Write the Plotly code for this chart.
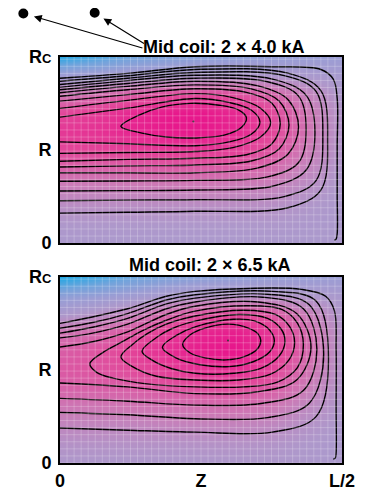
import plotly.graph_objects as go

# ---------------- data (z in % of L/2, r in % of Rc) ----------------
shade_z = [0, 12.5, 25, 37.5, 50, 62.5, 75, 87.5, 100]
shade_r = [0, 10, 20, 30, 40, 50, 60, 70, 80, 90, 100]

top_shade = [
    [0.45, 0.45, 0.45, 0.45, 0.45, 0.45, 0.45, 0.45, 0.45],
    [0.47, 0.47, 0.47, 0.47, 0.47, 0.47, 0.47, 0.46, 0.45],
    [0.52, 0.52, 0.52, 0.52, 0.52, 0.52, 0.51, 0.48, 0.45],
    [0.60, 0.60, 0.60, 0.61, 0.61, 0.60, 0.58, 0.52, 0.46],
    [0.70, 0.70, 0.71, 0.72, 0.72, 0.71, 0.67, 0.57, 0.47],
    [0.80, 0.81, 0.83, 0.85, 0.86, 0.84, 0.76, 0.62, 0.48],
    [0.86, 0.88, 0.93, 0.97, 0.98, 0.93, 0.81, 0.65, 0.48],
    [0.80, 0.85, 0.92, 0.97, 0.98, 0.92, 0.80, 0.64, 0.48],
    [0.62, 0.66, 0.72, 0.78, 0.80, 0.77, 0.70, 0.58, 0.46],
    [0.38, 0.40, 0.43, 0.45, 0.47, 0.48, 0.47, 0.45, 0.42],
    [0.05, 0.12, 0.20, 0.25, 0.28, 0.30, 0.32, 0.33, 0.35],
]

bottom_shade = [
    [0.47, 0.47, 0.47, 0.47, 0.47, 0.47, 0.47, 0.46, 0.45],
    [0.50, 0.50, 0.50, 0.50, 0.50, 0.50, 0.49, 0.47, 0.45],
    [0.56, 0.56, 0.56, 0.57, 0.57, 0.57, 0.55, 0.50, 0.46],
    [0.63, 0.63, 0.64, 0.65, 0.66, 0.66, 0.63, 0.55, 0.47],
    [0.70, 0.71, 0.72, 0.75, 0.77, 0.78, 0.73, 0.61, 0.48],
    [0.74, 0.76, 0.79, 0.84, 0.88, 0.90, 0.82, 0.66, 0.49],
    [0.72, 0.76, 0.82, 0.90, 0.96, 0.99, 0.88, 0.69, 0.49],
    [0.64, 0.68, 0.75, 0.85, 0.93, 0.96, 0.86, 0.68, 0.49],
    [0.45, 0.50, 0.58, 0.68, 0.76, 0.80, 0.74, 0.60, 0.47],
    [0.30, 0.33, 0.38, 0.44, 0.48, 0.50, 0.50, 0.47, 0.44],
    [0.03, 0.10, 0.18, 0.24, 0.28, 0.30, 0.32, 0.33, 0.35],
]

# --- upper panel (2 x 4.0 kA) flux lines ---
top_closed_z = [[21.6, 27.4, 36.0, 46.2, 56.5, 63.4, 66.1, 64.4, 58.2, 47.9, 37.7, 29.1, 21.6]]
top_closed_r = [[62.7, 68.4, 73.1, 75.1, 74.1, 71.5, 67.4, 62.2, 58.0, 56.5, 57.0, 59.1, 62.7]]

top_open_z = [
    [0, 24.0, 47.9, 59.9, 67.8, 70.9, 67.8, 59.9, 47.9, 24.0, 0],
    [0, 24.0, 47.9, 61.3, 71.1, 74.7, 71.1, 61.3, 47.9, 24.0, 0],
    [0, 24.0, 47.9, 66.1, 75.0, 78.1, 75.0, 66.1, 47.9, 24.0, 0],
    [0, 24.0, 47.9, 67.8, 77.7, 81.2, 77.7, 67.8, 47.9, 24.0, 0],
    [0, 24.0, 47.9, 69.9, 80.8, 84.6, 80.8, 69.9, 47.9, 24.0, 0],
    [0, 24.0, 47.9, 73.6, 84.6, 87.3, 84.6, 73.6, 47.9, 24.0, 0],
    [0, 24.0, 47.9, 75.7, 87.3, 90.4, 87.3, 75.7, 47.9, 24.0, 0],
    [0, 24.0, 47.9, 79.5, 90.8, 93.2, 90.8, 79.5, 47.9, 24.0, 0],
    [0, 24.0, 47.9, 80.8, 92.5, 94.9, 92.5, 80.8, 47.9, 24.0, 0],
]
top_open_r = [
    [54.4, 53.4, 52.3, 54.4, 58.5, 65.0, 71.5, 75.6, 77.7, 72.5, 67.7],
    [48.2, 48.7, 49.2, 51.3, 57.0, 64.8, 72.5, 78.2, 80.3, 76.7, 72.4],
    [44.0, 45.0, 45.6, 47.5, 53.1, 64.2, 75.4, 81.0, 82.9, 79.8, 76.3],
    [40.9, 41.5, 42.0, 44.1, 50.6, 63.5, 76.4, 82.9, 85.0, 82.4, 78.9],
    [37.8, 37.8, 37.8, 40.3, 47.7, 62.4, 77.2, 84.6, 87.0, 84.2, 80.8],
    [33.2, 33.4, 33.7, 35.6, 43.3, 61.1, 79.0, 86.7, 88.6, 85.8, 82.4],
    [28.0, 28.2, 28.5, 30.7, 39.3, 59.3, 79.4, 88.0, 90.2, 87.3, 83.7],
    [22.8, 23.1, 23.3, 25.0, 33.6, 57.5, 81.5, 90.0, 91.7, 88.6, 85.2],
    [16.1, 16.6, 17.1, 19.0, 28.5, 55.2, 81.9, 91.3, 93.3, 89.9, 87.0],
]
top_wall_z = [0, 24.0, 47.9, 75.3, 92.5, 96.9, 98.3, 98.3, 98.3, 98.3, 97.9, 97.3]
top_wall_r = [88.6, 91.2, 94.8, 94.8, 93.3, 88.1, 77.7, 51.8, 25.9, 5.2, 2.1, 1.6]
top_opoint = (47.3, 65.3)

# --- lower panel (2 x 6.5 kA) flux lines ---
bottom_closed_z = [
    [43.5, 46.2, 51.4, 59.6, 66.8, 70.2, 71.2, 69.9, 65.1, 58.9, 51.4, 46.2, 43.5],
    [36.3, 41.1, 47.9, 61.6, 69.2, 74.3, 76.0, 74.3, 68.5, 59.9, 49.7, 41.1, 36.3],
    [29.1, 34.2, 39.4, 47.9, 63.4, 73.6, 78.4, 79.8, 77.7, 71.2, 61.6, 47.9, 39.4, 32.5, 29.1],
    [21.6, 25.7, 30.8, 37.7, 47.9, 65.1, 76.4, 81.5, 83.2, 81.2, 74.7, 63.4, 47.9, 34.2, 25.7, 21.6],
    [10.6, 15.4, 22.3, 29.1, 37.7, 47.9, 66.8, 78.8, 84.2, 86.3, 84.2, 77.1, 65.1, 47.9, 30.8, 18.8, 13.0, 10.6],
]
bottom_closed_r = [
    [63.7, 68.9, 72.5, 74.6, 72.5, 69.4, 65.8, 61.1, 57.0, 55.4, 56.5, 59.1, 63.7],
    [62.2, 68.4, 73.1, 77.2, 76.2, 71.5, 65.8, 59.6, 54.4, 51.8, 52.8, 56.5, 62.2],
    [60.1, 67.4, 72.0, 76.2, 79.8, 77.7, 72.0, 65.3, 57.5, 50.8, 48.2, 48.2, 50.8, 55.4, 60.1],
    [57.0, 63.7, 69.4, 74.6, 79.0, 82.1, 79.8, 73.1, 64.8, 55.4, 47.7, 44.6, 44.6, 46.6, 51.8, 57.0],
    [53.4, 59.6, 65.3, 71.0, 76.7, 81.6, 84.5, 82.4, 75.1, 63.7, 51.3, 43.5, 40.9, 40.9, 42.5, 45.6, 48.7, 53.4],
]
bottom_open_z = [
    [0, 24.0, 47.9, 70.2, 83.9, 89.0, 83.9, 70.2, 47.9, 37.7, 24.0, 12.0, 0],
    [0, 24.0, 47.9, 71.9, 86.3, 91.1, 86.3, 71.9, 47.9, 37.7, 24.0, 12.0, 0],
    [0, 24.0, 47.9, 73.6, 88.4, 93.5, 88.4, 73.6, 47.9, 37.7, 24.0, 12.0, 0],
    [0, 24.0, 47.9, 75.3, 90.8, 95.2, 90.8, 75.3, 47.9, 37.7, 24.0, 12.0, 0],
]
bottom_open_r = [
    [43.0, 40.9, 37.3, 38.3, 44.6, 62.2, 80.3, 86.5, 84.2, 79.8, 70.5, 65.3, 62.3],
    [34.7, 33.2, 31.1, 32.1, 38.9, 61.1, 82.9, 89.1, 86.5, 82.9, 74.6, 69.9, 67.2],
    [27.1, 25.9, 23.8, 24.4, 32.1, 58.5, 85.0, 90.7, 88.6, 85.5, 77.7, 73.1, 69.8],
    [18.8, 17.6, 16.6, 16.6, 24.9, 56.0, 87.0, 92.2, 90.4, 87.6, 80.3, 75.6, 72.4],
]
bottom_wall_z = [0, 24.0, 37.7, 47.9, 66.8, 85.6, 94.2, 97.3, 97.9, 97.9, 97.9, 97.6, 96.9]
bottom_wall_r = [75.0, 82.9, 89.6, 92.2, 93.8, 93.3, 89.6, 81.9, 61.1, 30.1, 5.2, 2.6, 2.1]
bottom_opoint = (59.6, 65.8)

titles = ["Mid coil: 2 \u00d7 4.0 kA", "Mid coil: 2 \u00d7 6.5 kA"]
x_tickvals = [0, 50, 100]
x_ticktext = ["0", "Z", "L/2"]
y_tickvals = [0, 50, 100]
y_ticktext = ["0", "R", "R<span style='font-size:13px'>C</span>"]

# ---------------- figure ----------------
FONT = "Liberation Sans, Arial, Helvetica, sans-serif"
colorscale = [[0.0, "#12a9e6"], [0.2, "#72a4dc"], [0.35, "#9c9dd4"], [0.47, "#ae98cb"],
              [0.62, "#cc7ab6"], [0.8, "#e2489a"], [1.0, "#e8128a"]]

fig = go.Figure()
LINE = dict(color="black", width=1.4, shape="spline", smoothing=1.0)


def add_panel(xa, ya, shade, closed_z, closed_r, open_z, open_r, wall_z, wall_r, opoint):
    fig.add_trace(go.Heatmap(x=shade_z, y=shade_r, z=shade, zmin=0, zmax=1,
                             colorscale=colorscale, zsmooth="best", showscale=False,
                             hoverinfo="skip", xaxis=xa, yaxis=ya))
    for zs, rs in list(zip(closed_z, closed_r)) + list(zip(open_z, open_r)) + [(wall_z, wall_r)]:
        fig.add_trace(go.Scatter(x=zs, y=rs, mode="lines", line=LINE, hoverinfo="skip",
                                 showlegend=False, xaxis=xa, yaxis=ya))
    fig.add_trace(go.Scatter(x=[opoint[0]], y=[opoint[1]], mode="markers",
                             marker=dict(size=2, color="#333"), hoverinfo="skip",
                             showlegend=False, xaxis=xa, yaxis=ya))


add_panel("x", "y", top_shade, top_closed_z, top_closed_r, top_open_z, top_open_r,
          top_wall_z, top_wall_r, top_opoint)
add_panel("x2", "y2", bottom_shade, bottom_closed_z, bottom_closed_r, bottom_open_z,
          bottom_open_r, bottom_wall_z, bottom_wall_r, bottom_opoint)

# light mesh texture over the maps
shapes = []
for xr, yr in [("x", "y"), ("x2", "y2")]:
    for k in range(1, 40):
        shapes.append(dict(type="line", xref=xr, yref=yr, x0=k * 2.5, x1=k * 2.5, y0=0, y1=100,
                           line=dict(color="rgba(255,255,255,0.22)", width=1), layer="above"))
    for k in range(1, 27):
        shapes.append(dict(type="line", xref=xr, yref=yr, x0=0, x1=100, y0=k * 3.8, y1=k * 3.8,
                           line=dict(color="rgba(255,255,255,0.22)", width=1), layer="above"))

# the two dots at the top left
for cx, cy in [(-0.130, 1.107), (0.123, 1.109)]:
    shapes.append(dict(type="circle", xref="paper", yref="paper", xsizemode="pixel",
                       ysizemode="pixel", xanchor=cx, yanchor=cy, x0=-5, x1=5, y0=-5, y1=5,
                       fillcolor="black", line=dict(color="black", width=0)))

axis_common = dict(range=[0, 100], showgrid=False, zeroline=False, showline=True, mirror=True,
                   linecolor="black", linewidth=2, ticks="", fixedrange=True)
tickfont = dict(family=FONT, size=18, color="black")

fig.update_layout(
    width=359, height=495,
    margin=dict(l=52, r=15, t=49, b=25),
    paper_bgcolor="white", plot_bgcolor="white",
    showlegend=False,
    font=dict(family=FONT, color="black"),
    shapes=shapes,
    xaxis=dict(axis_common, domain=[0, 1], anchor="y", showticklabels=False),
    yaxis=dict(axis_common, domain=[0.5416, 1], anchor="x", tickvals=y_tickvals,
               ticktext=["<b>" + t + "</b>" for t in y_ticktext], tickfont=tickfont,
               ticklabelstandoff=3),
    xaxis2=dict(axis_common, domain=[0, 1], anchor="y2", tickvals=x_tickvals,
                ticktext=["<b>" + t + "</b>" for t in x_ticktext], tickfont=tickfont),
    yaxis2=dict(axis_common, domain=[0, 0.4584], anchor="x2", tickvals=y_tickvals,
                ticktext=["<b>" + t + "</b>" for t in y_ticktext], tickfont=tickfont,
                ticklabelstandoff=3),
    annotations=[
        dict(text="<b>" + titles[0] + "</b>", xref="paper", yref="paper", x=0.582, y=1.024,
             xanchor="center", yanchor="middle", showarrow=False,
             font=dict(family=FONT, size=18, color="black")),
        dict(text="<b>" + titles[1] + "</b>", xref="paper", yref="paper", x=0.531, y=0.487,
             xanchor="center", yanchor="middle", showarrow=False,
             font=dict(family=FONT, size=18, color="black")),
        dict(text="", xref="paper", yref="paper", x=-0.0925, y=1.0998, ax=110, ay=32,
             showarrow=True, arrowhead=2, arrowsize=1.3, arrowwidth=1.2, arrowcolor="black"),
        dict(text="", xref="paper", yref="paper", x=0.1541, y=1.0950, ax=42, ay=26,
             showarrow=True, arrowhead=2, arrowsize=1.3, arrowwidth=1.2, arrowcolor="black"),
    ],
)

fig.write_html("out.html")
